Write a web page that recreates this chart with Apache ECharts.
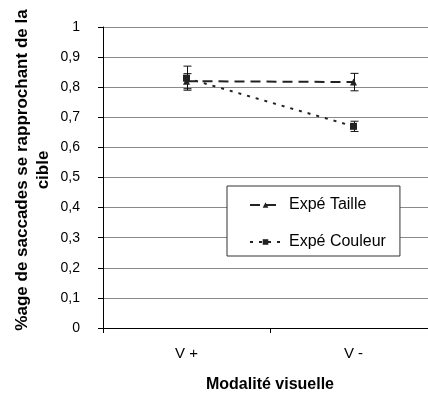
<!DOCTYPE html>
<html>
<head>
<meta charset="utf-8">
<script src="https://cdn.jsdelivr.net/npm/echarts@6/dist/echarts.min.js"></script>
<style>
html,body{margin:0;padding:0;background:#fff;}
#c{width:428px;height:394px;}
</style>
</head>
<body>
<div id="c"></div>
<script>
var categories = ['V +', 'V -'];
var tailleValues = [0.82, 0.817];
var tailleErrors = [0.025, 0.029];
var couleurValues = [0.83, 0.67];
var couleurErrors = [0.04, 0.017];
var yTicks = [0, 0.1, 0.2, 0.3, 0.4, 0.5, 0.6, 0.7, 0.8, 0.9, 1];

var FONT = '"Liberation Sans", Arial, sans-serif';

function errData(vals, errs) {
  return vals.map(function (v, i) { return [i, v - errs[i], v + errs[i]]; });
}

function errSeries(vals, errs) {
  return {
    type: 'custom',
    silent: true,
    z: 3,
    data: errData(vals, errs),
    encode: { x: 0, y: [1, 2] },
    renderItem: function (params, api) {
      var lo = api.coord([api.value(0), api.value(1)]);
      var hi = api.coord([api.value(0), api.value(2)]);
      var x = Math.round(lo[0]) + 0.5;
      var w = 4;
      var style = { stroke: '#111', lineWidth: 1, fill: null };
      return {
        type: 'group',
        children: [
          { type: 'line', shape: { x1: x, y1: lo[1], x2: x, y2: hi[1] }, style: style },
          { type: 'line', shape: { x1: x - w, y1: lo[1], x2: x + w, y2: lo[1] }, style: style },
          { type: 'line', shape: { x1: x - w, y1: hi[1], x2: x + w, y2: hi[1] }, style: style }
        ]
      };
    }
  };
}

var chart = echarts.init(document.getElementById('c'), null, { renderer: 'canvas' });
chart.setOption({
  backgroundColor: '#fff',
  animation: false,
  grid: { left: 103, right: -9, top: 27, bottom: 66, containLabel: false, outerBoundsMode: 'none' },
  xAxis: {
    type: 'category',
    data: categories,
    boundaryGap: true,
    axisLine: { lineStyle: { color: '#000', width: 1 } },
    axisTick: { show: true, length: 5, lineStyle: { color: '#000' } },
    axisLabel: { color: '#000', fontSize: 15, fontFamily: FONT, margin: 18 },
    name: 'Modalité visuelle',
    nameLocation: 'middle',
    nameGap: 49,
    nameTextStyle: { color: '#000', fontSize: 16, fontWeight: 'bold', fontFamily: FONT }
  },
  yAxis: {
    type: 'value',
    min: yTicks[0],
    max: yTicks[yTicks.length - 1],
    interval: 0.1,
    axisLine: { show: true, lineStyle: { color: '#000', width: 1 } },
    axisTick: { show: true, length: 5, lineStyle: { color: '#000' } },
    axisLabel: {
      color: '#000', fontSize: 14, fontFamily: FONT, margin: 23,
      formatter: function (v) { return String(Math.round(v * 10) / 10).replace('.', ','); }
    },
    splitLine: { show: true, lineStyle: { color: '#8a8a8a', width: 1 } }
  },
  legend: {
    orient: 'vertical',
    left: 227,
    top: 186,
    padding: [11, 14, 6, 22],
    itemGap: 21,
    itemWidth: 31,
    itemHeight: 7,
    backgroundColor: '#fff',
    borderColor: '#333',
    borderWidth: 1,
    textStyle: { color: '#000', fontSize: 16, fontFamily: FONT, padding: [0, 0, 0, 3] },
    data: ['Expé Taille', 'Expé Couleur']
  },
  graphic: [{
    type: 'text',
    x: 33,
    y: 170,
    rotation: Math.PI / 2,
    style: {
      text: '%age de saccades se rapprochant de la\ncible',
      fill: '#000',
      font: 'bold 17px "Liberation Sans", Arial, sans-serif',
      align: 'center',
      verticalAlign: 'middle',
      lineHeight: 21
    }
  }],
  series: [
    {
      name: 'Expé Taille',
      type: 'line',
      data: tailleValues,
      symbol: 'triangle',
      symbolSize: 7,
      z: 4,
      itemStyle: { color: '#222' },
      lineStyle: { color: '#222', width: 2, type: [10, 6] }
    },
    {
      name: 'Expé Couleur',
      type: 'line',
      data: couleurValues,
      symbol: 'rect',
      symbolSize: 7,
      z: 5,
      itemStyle: { color: '#222' },
      lineStyle: { color: '#222', width: 2, type: [3, 6] }
    },
    errSeries(tailleValues, tailleErrors),
    errSeries(couleurValues, couleurErrors)
  ]
});
</script>
</body>
</html>
